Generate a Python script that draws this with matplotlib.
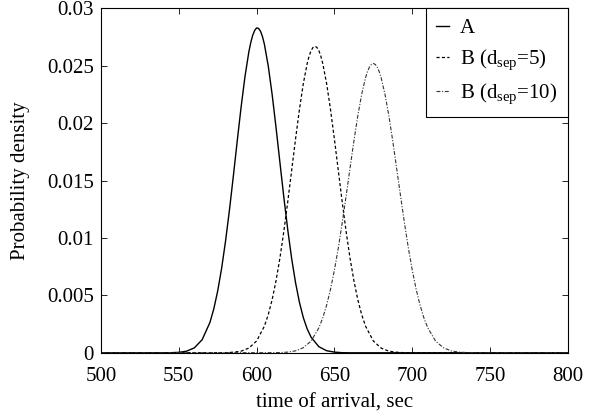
import matplotlib
matplotlib.use("Agg")
import matplotlib.pyplot as plt

# ---- data ----
a_x = [500, 530, 540, 545, 550, 555, 560, 565, 570, 572.5, 575, 577.5, 580, 582.5, 585,
       587.5, 590, 592.5, 595, 596.25, 597.5, 598.75, 600, 601.25, 602.5, 603.75, 605,
       607.5, 610, 612.5, 615, 617.5, 620, 622.5, 625, 627.5, 630, 632.5, 635, 640, 645,
       650, 655, 660, 670, 800]
a_y = [0, 0, 0.000003, 0.00001, 0.00004, 0.00014, 0.00043, 0.00114, 0.00264, 0.00383,
       0.00539, 0.00734, 0.00969, 0.01238, 0.01533, 0.01839, 0.02136, 0.02404, 0.02620,
       0.02703, 0.02766, 0.02808, 0.02830, 0.02826, 0.02801, 0.02755, 0.02688, 0.02497,
       0.02248, 0.01960, 0.01656, 0.01354, 0.01073, 0.00823, 0.00612, 0.00441, 0.00307,
       0.00208, 0.00136, 0.00053, 0.00018, 0.00006, 0.00001, 0, 0, 0]

b5_x = [500, 580, 585, 590, 595, 600, 605, 607.5, 610, 612.5, 615, 617.5, 620, 622.5,
        625, 627.5, 630, 632.5, 633.75, 635, 636.25, 637.5, 638.75, 640, 641.25, 642.5,
        645, 647.5, 650, 652.5, 655, 657.5, 660, 662.5, 665, 667.5, 670, 675, 680, 685,
        690, 695, 700, 800]
b5_y = [0, 0.00001, 0.00005, 0.00014, 0.00041, 0.00103, 0.00232, 0.00333, 0.00464,
        0.00629, 0.00827, 0.01058, 0.01314, 0.01587, 0.01860, 0.02118, 0.02344, 0.02520,
        0.02585, 0.02632, 0.02660, 0.02670, 0.02660, 0.02632, 0.02585, 0.02520, 0.02344,
        0.02118, 0.01860, 0.01587, 0.01314, 0.01058, 0.00827, 0.00629, 0.00464, 0.00333,
        0.00232, 0.00103, 0.00041, 0.00014, 0.00005, 0.00001, 0, 0]

b10_x = [500, 610, 615, 620, 625, 630, 635, 640, 642.5, 645, 647.5, 650, 652.5, 655,
         657.5, 660, 662.5, 665, 667.5, 670, 671.25, 672.5, 673.75, 675, 676.25, 677.5,
         678.75, 680, 682.5, 685, 687.5, 690, 692.5, 695, 697.5, 700, 702.5, 705, 707.5,
         710, 715, 720, 725, 730, 735, 740, 800]
b10_y = [0, 0.00001, 0.00002, 0.00006, 0.00017, 0.00044, 0.00102, 0.00217, 0.00304,
         0.00416, 0.00554, 0.00721, 0.00914, 0.01131, 0.01365, 0.01606, 0.01843, 0.02063,
         0.02251, 0.02397, 0.02450, 0.02489, 0.02512, 0.02520, 0.02512, 0.02489, 0.02450,
         0.02397, 0.02251, 0.02063, 0.01843, 0.01606, 0.01365, 0.01131, 0.00914, 0.00721,
         0.00554, 0.00416, 0.00304, 0.00217, 0.00102, 0.00044, 0.00017, 0.00006, 0.00002,
         0.00001, 0]

series_labels = ["A", "B (d$_{\\mathrm{sep}}$=5)", "B (d$_{\\mathrm{sep}}$=10)"]
x_ticks = [500, 550, 600, 650, 700, 750, 800]
y_ticks = [0, 0.005, 0.01, 0.015, 0.02, 0.025, 0.03]
y_tick_labels = ["0", "0.005", "0.01", "0.015", "0.02", "0.025", "0.03"]

# ---- style ----
FS = 15
plt.rcParams['font.family'] = ['Liberation Serif', 'DejaVu Serif']
plt.rcParams['mathtext.fontset'] = 'custom'
plt.rcParams['mathtext.rm'] = 'Liberation Serif'
plt.rcParams['mathtext.it'] = 'Liberation Serif:italic'
plt.rcParams['font.size'] = FS

fig = plt.figure(figsize=(5.94, 4.20), dpi=100)
ax = fig.add_axes([0.170, 0.160, 0.786, 0.820])

ax.plot(a_x, a_y, color='black', lw=1.0, ls='-', label=series_labels[0])
ax.plot(b5_x, b5_y, color='black', lw=0.9, ls=(0, (2.5, 1.8)), label=series_labels[1])
ax.plot(b10_x, b10_y, color='#333333', lw=0.8, ls=(0, (3.5, 1.5, 1, 1.5)), label=series_labels[2])

ax.set_xlim(500, 800)
ax.set_ylim(0, 0.03)
ax.set_xticks(x_ticks)
ax.set_xticklabels([str(v) for v in x_ticks])
ax.set_yticks(y_ticks)
ax.set_yticklabels(y_tick_labels)
ax.tick_params(direction='in', top=True, right=True, length=4, width=0.6, labelsize=FS)
ax.tick_params(axis='x', pad=10)
ax.tick_params(axis='y', pad=5)
for s in ax.spines.values():
    s.set_linewidth(0.8)

ax.set_xlabel("time of arrival, sec", fontsize=FS, labelpad=6)
ax.set_ylabel("Probability density", fontsize=FS, labelpad=12)

leg = ax.legend(loc='upper right', borderaxespad=0.0, fancybox=False, edgecolor='black',
                handlelength=0.6, handletextpad=0.55, labelspacing=0.45, fontsize=FS,
                borderpad=0.5, framealpha=1)
leg.get_frame().set_linewidth(0.8)

fig.savefig("out.png", dpi=100)
